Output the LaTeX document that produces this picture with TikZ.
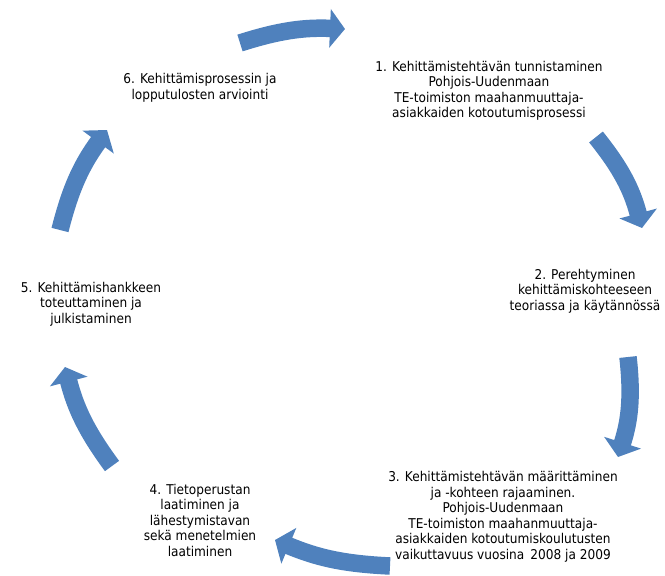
\documentclass[tikz,border=0pt]{standalone}
\usepackage{fontspec}
\setmainfont{DejaVu Sans Condensed}
\usetikzlibrary{arrows.meta}
\definecolor{cycleblue}{HTML}{4F81BD}

\begin{document}
\begin{tikzpicture}[x=1pt, y=1pt,
    stagetext/.style={align=center, inner sep=0pt, font=\fontsize{13.5}{15.5}\selectfont},
    cyclearrow/.style={draw=cycleblue, line width=17.5pt, -{Triangle[width=38pt, length=15pt]}}]

    % Fix the size of the picture
    \useasboundingbox (0, 0) rectangle (665, -576);

    % Stages of the cycle
    \node[stagetext] (s1) at (489, -91) {1. Kehittämistehtävän tunnistaminen\\Pohjois-Uudenmaan\\TE-toimiston maahanmuuttaja-\\asiakkaiden kotoutumisprosessi};
    \node[stagetext] (s2) at (585, -291) {2. Perehtyminen\\kehittämiskohteeseen\\teoriassa ja käytännössä};
    \node[stagetext] (s3) at (503, -517) {3. Kehittämistehtävän määrittäminen\\ja -kohteen rajaaminen.\\Pohjois-Uudenmaan\\TE-toimiston maahanmuuttaja-\\asiakkaiden kotoutumiskoulutusten\\vaikuttavuus vuosina\, 2008 ja 2009};
    \node[stagetext] (s4) at (200, -520) {4. Tietoperustan\\laatiminen ja\\lähestymistavan\\sekä menetelmien\\laatiminen};
    \node[stagetext] (s5) at (91, -304) {5. Kehittämishankkeen\\toteuttaminen ja\\julkistaminen};
    \node[stagetext] (s6) at (200, -88) {6. Kehittämisprosessin ja\\lopputulosten arviointi};

    % Ends of the arrows round the cycle
    \coordinate (a1) at (240, -43);  \coordinate (b1) at (345, -29);
    \coordinate (a2) at (596, -137); \coordinate (b2) at (642, -228);
    \coordinate (a3) at (628, -357); \coordinate (b3) at (618, -457);
    \coordinate (a4) at (390, -566); \coordinate (b4) at (275, -540);
    \coordinate (a5) at (112, -466); \coordinate (b5) at (65, -367);
    \coordinate (a6) at (60, -230);  \coordinate (b6) at (107, -130);

    % Draw the arrows
    \draw[cyclearrow] (a1) to[bend left=10] (b1);
    \draw[cyclearrow] (a2) to[bend left=12] (b2);
    \draw[cyclearrow] (a3) to[bend left=12] (b3);
    \draw[cyclearrow] (a4) to[bend left=10] (b4);
    \draw[cyclearrow] (a5) to[bend left=11] (b5);
    \draw[cyclearrow] (a6) to[bend left=11] (b6);

\end{tikzpicture}
\end{document}
